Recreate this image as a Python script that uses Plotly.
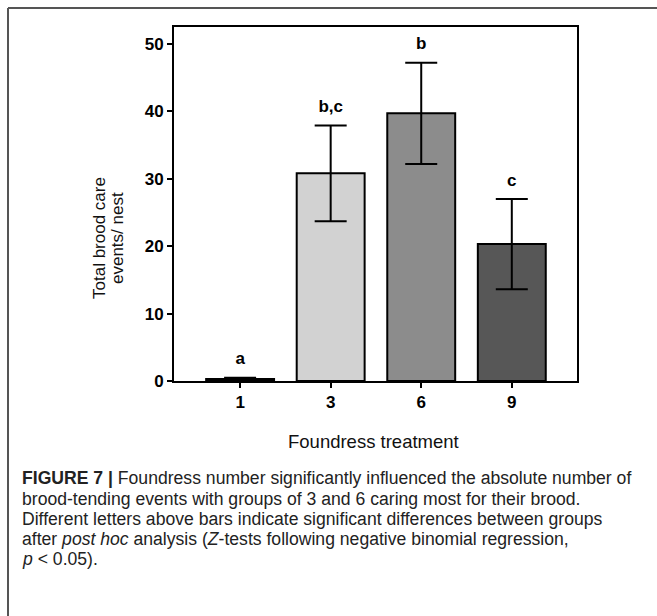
import plotly.graph_objects as go

categories = ["1", "3", "6", "9"]
values = [0.3, 30.8, 39.7, 20.3]
errors = [0.2, 7.1, 7.5, 6.7]
letters = ["a", "b,c", "b", "c"]
bar_colors = ["#7a7a7a", "#d2d2d2", "#8c8c8c", "#575757"]
y_ticks = [0, 10, 20, 30, 40, 50]

caption_lines = [
    "<b>FIGURE 7 |</b> Foundress number significantly influenced the absolute number of",
    "brood-tending events with groups of 3 and 6 caring most for their brood.",
    "Different letters above bars indicate significant differences between groups",
    "after <i>post hoc</i> analysis (<i>Z</i>-tests following negative binomial regression,",
    "<i>p</i> &lt; 0.05).",
]

W, H = 657, 616
L, R, T, B = 174, 577, 27, 381  # plot area pixel box


def px_x(x):
    return (x - L) / (R - L)


def px_y(y):
    return (B - y) / (B - T)


FONT = "Liberation Sans, Arial"

fig = go.Figure()
fig.add_trace(go.Bar(
    x=list(range(len(categories))),
    y=values,
    width=0.75,
    marker=dict(color=bar_colors, line=dict(color="black", width=2)),
    error_y=dict(type="data", array=errors, visible=True, color="black",
                 thickness=2, width=16),
    showlegend=False,
))

# significance letters
fig.add_trace(go.Scatter(
    x=list(range(len(categories))),
    y=[v + e + 2.6 for v, e in zip(values, errors)],
    mode="text",
    text=letters,
    textposition="middle center",
    textfont=dict(family=FONT, size=17, color="black", weight="bold"),
    showlegend=False,
    hoverinfo="skip",
))

fig.update_xaxes(
    range=[-0.73, 3.72],
    tickmode="array",
    tickvals=list(range(len(categories))),
    ticktext=categories,
    showline=True, linecolor="black", linewidth=2, mirror=True,
    ticks="outside", ticklen=5, tickwidth=2, tickcolor="black",
    tickfont=dict(family=FONT, size=17, color="black", weight="bold"),
    showgrid=False, zeroline=False,
)
fig.update_yaxes(
    range=[0, 52.5],
    tickmode="array",
    tickvals=y_ticks,
    showline=True, linecolor="black", linewidth=2, mirror=True,
    ticks="outside", ticklen=5, tickwidth=2, tickcolor="black",
    tickfont=dict(family=FONT, size=17, color="black", weight="bold"),
    showgrid=False, zeroline=False,
)

annotations = [
    dict(text="Total brood care", textangle=-90,
         x=px_x(99), y=px_y(238), xref="paper", yref="paper",
         showarrow=False, xanchor="center", yanchor="middle",
         font=dict(family=FONT, size=17, color="#111")),
    dict(text="events/ nest", textangle=-90,
         x=px_x(117), y=px_y(238), xref="paper", yref="paper",
         showarrow=False, xanchor="center", yanchor="middle",
         font=dict(family=FONT, size=17, color="#111")),
    dict(text="Foundress treatment",
         x=px_x(373), y=px_y(441), xref="paper", yref="paper",
         showarrow=False, xanchor="center", yanchor="middle",
         font=dict(family=FONT, size=18.5, color="#111")),
]
cap_y = [478, 499, 519, 539, 559]
for line, yy in zip(caption_lines, cap_y):
    annotations.append(dict(
        text=line, x=px_x(20), y=px_y(yy), xref="paper", yref="paper",
        showarrow=False, xanchor="left", yanchor="middle", align="left",
        font=dict(family=FONT, size=17.6, color="#222"),
    ))

frame = dict(color="#555", width=2)
fig.update_layout(
    width=W, height=H,
    margin=dict(l=L, r=W - R, t=T, b=H - B),
    paper_bgcolor="white", plot_bgcolor="white",
    annotations=annotations,
    shapes=[
        dict(type="line", xref="paper", yref="paper",
             x0=px_x(8), x1=px_x(W + 20), y0=px_y(8), y1=px_y(8), line=frame),
        dict(type="line", xref="paper", yref="paper",
             x0=px_x(8), x1=px_x(8), y0=px_y(8), y1=px_y(H + 20), line=frame),
    ],
)

fig.write_html(
    "out.html",
    config={"displayModeBar": False},
    post_script="document.body.style.margin='0';document.body.style.overflow='hidden';",
)
